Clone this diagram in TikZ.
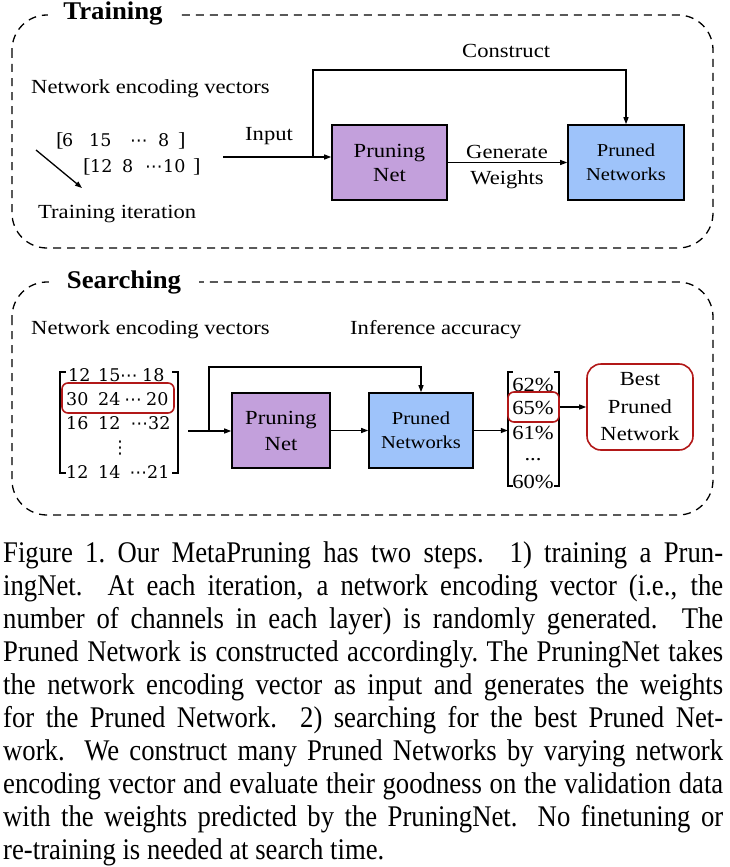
\documentclass[tikz,border=0pt]{standalone}
\usepackage{fontspec}
\setmainfont{Liberation Serif}
\newfontfamily\dfont{Liberation Serif}[FakeStretch=1.13]
\newfontfamily\tfont{Liberation Serif}[FakeStretch=1.05]
\newfontfamily\capf{Liberation Serif}[FakeStretch=0.89]
\newfontfamily\numf{DejaVu Serif}
\newfontfamily\symf{DejaVu Sans}
\usetikzlibrary{arrows.meta}
\definecolor{pnpurple}{RGB}{195,160,220}
\definecolor{prblue}{RGB}{158,195,250}
\definecolor{bestred}{RGB}{178,24,24}
\newcommand\dsz{\dfont\fontsize{20}{24}\selectfont}
\newcommand\ssz{\dfont\fontsize{18.2}{24}\selectfont}
\newcommand\capsz{\capf\fontsize{30}{33}\selectfont}
\newcommand\nsz{\numf\fontsize{17.5}{20}\selectfont}
\newcommand\cdt{{\symf ⋯}}
\newcommand\vdt{{\symf ⋮}}
\newcommand\lbk{{\dfont\fontsize{20}{20}\selectfont [}}
\newcommand\rbk{{\dfont\fontsize{20}{20}\selectfont ]}}
\newcommand\capl[1]{\makebox[720pt][s]{#1}}
\begin{document}
\begin{tikzpicture}[x=1pt,y=-1pt,
  dashbox/.style={draw, line width=1.3pt, dash pattern=on 8pt off 6pt, rounded corners=35pt},
  arr/.style={line width=1.3pt, -{Triangle[length=7pt,width=5pt]}},
  pnbox/.style={draw, line width=1.6pt, fill=pnpurple, align=center, inner sep=0pt, font=\dsz},
  prbox/.style={draw, line width=1.6pt, fill=prblue, align=center, inner sep=0pt, font=\ssz},
  redbox/.style={draw=bestred, line width=1.6pt, rounded corners=6pt, inner sep=0pt},
  lbl/.style={inner sep=0pt, anchor=base west, font=\dsz},
  numrow/.style={inner sep=0pt, anchor=base west, font=\nsz},
  acct/.style={inner sep=0pt, font=\dsz},
  ttl/.style={fill=white, inner ysep=2pt, anchor=base, font=\tfont\bfseries\fontsize{25.5}{25.5}\selectfont},
  brk/.style={line width=1.5pt},
  capline/.style={inner sep=0pt, anchor=base west, font=\capsz}]
\useasboundingbox (0,0) rectangle (730,867);

% ---------------- Training ----------------
\draw[dashbox] (12,15) rectangle (713,248);
\node[ttl, inner xsep=15pt] (ttrain) at (113,20) {Training};
\node[lbl] (tnev) at (31,93) {Network encoding vectors};
\node[numrow] (tva) at (56,146) {\makebox[6pt][l]{\lbk}\makebox[27pt][l]{6}\makebox[41pt][l]{15}\makebox[28pt][l]{\cdt}\makebox[20pt][l]{8}\rbk};
\node[numrow] (tvb) at (83,172) {\makebox[7pt][l]{\lbk}\makebox[32pt][l]{12}\makebox[23pt][l]{8}\makebox[18pt][l]{\cdt}\makebox[30pt][l]{10}\rbk};
\coordinate (dA) at (36,150);
\coordinate (dB) at (82,188);
\draw[arr] (dA) -- (dB);
\node[lbl] (titer) at (38,218) {Training iteration};
\node[lbl] (tinput) at (245,140) {Input};
\node[lbl] (tcons) at (462,57) {Construct};
\node[pnbox, minimum width=115pt, minimum height=75pt] (tPN) at (389.5,162.5) {Pruning\\Net};
\node[prbox, minimum width=116pt, minimum height=75pt] (tPR) at (626,162.5) {Pruned\\Networks};
\coordinate (inA) at (223,157);
\coordinate (tj) at (313,157);
\coordinate (tTop) at (313,70);
\draw[arr] (inA) -- (inA -| tPN.west);
\draw[arr] (tj) -- (tTop) -| (tPR.north);
\draw[arr] (tPN.east) -- (tPR.west);
\node[lbl, anchor=base] (tgen) at (507,158) {Generate};
\node[lbl, anchor=base] (twei) at (507,184) {Weights};

% ---------------- Searching ----------------
\draw[dashbox] (12,282) rectangle (713,515);
\node[ttl, inner xsep=18pt] (tsearch) at (124,288) {Searching};
\node[lbl] (snev) at (31,334) {Network encoding vectors};
\node[lbl] (sinf) at (350,334) {Inference accuracy};

\node[inner sep=0pt, minimum width=118pt, minimum height=101pt] (mat) at (119,422.5) {};
\draw[brk] ([xshift=6pt]mat.north west) -- (mat.north west) -- (mat.south west) -- ([xshift=6pt]mat.south west);
\draw[brk] ([xshift=-6pt]mat.north east) -- (mat.north east) -- (mat.south east) -- ([xshift=-6pt]mat.south east);
\node[numrow] (mr1) at (68,381) {\makebox[30pt][l]{12}\makebox[22pt][l]{15}\makebox[22pt][l]{\cdt}18};
\node[numrow] (mr2) at (66,405) {\makebox[32pt][l]{30}\makebox[22pt][l]{24}\makebox[26pt][c]{\cdt}20};
\node[numrow] (mr3) at (66,429) {\makebox[32pt][l]{16}\makebox[22pt][l]{12}\makebox[28pt][r]{\cdt}32};
\node[inner sep=0pt, font=\nsz] (mvd) at (120,448) {\vdt};
\node[numrow] (mr5) at (66,478) {\makebox[32pt][l]{12}\makebox[22pt][l]{14}\makebox[27pt][r]{\cdt}21};
\node[redbox, minimum width=112pt, minimum height=30pt] (r30) at (118,398) {};

\node[pnbox, minimum width=98pt, minimum height=75pt, font=\dfont\fontsize{20}{26}\selectfont] (sPN) at (281,430.5) {Pruning\\Net};
\node[prbox, minimum width=104pt, minimum height=75pt] (sPR) at (421,430.5) {Pruned\\Networks};
\coordinate (mA) at (188,431);
\coordinate (sj) at (209,431);
\coordinate (sTop) at (209,367);
\draw[arr] (mA) -- (mA -| sPN.west);
\draw[arr] (sj) -- (sTop) -| (sPR.north);
\draw[arr] (sPN.east) -- (sPR.west);

\node[inner sep=0pt, minimum width=51pt, minimum height=114pt] (acc) at (533.5,429) {};
\draw[brk] ([xshift=5pt]acc.north west) -- (acc.north west) -- (acc.south west) -- ([xshift=5pt]acc.south west);
\draw[brk] ([xshift=-5pt]acc.north east) -- (acc.north east) -- (acc.south east) -- ([xshift=-5pt]acc.south east);
\draw[arr] (sPR.east) -- (sPR.east -| acc.west);
\node[acct] (a62) at (533,385) {62\%};
\node[acct] (a65) at (533,408) {65\%};
\node[acct] (a61) at (533,433) {61\%};
\node[acct] (adots) at (533,460) {...};
\node[acct] (a60) at (533,482) {60\%};
\node[redbox, minimum width=51pt, minimum height=30pt] (r65) at (533.5,407) {};
\node[draw=bestred, line width=1.6pt, rounded corners=14pt, minimum width=106pt, minimum height=86pt, align=center, inner sep=0pt, font=\dfont\fontsize{20}{27.5}\selectfont] (best) at (640,407) {Best\\Pruned\\Network};
\draw[arr] (r65.east) -- (best.west);

% ---------------- Caption ----------------
\node[capline] (c1) at (3,562) {\capl{Figure 1.\ Our MetaPruning has two steps. 1) training a Prun-}};
\node[capline] (c2) at (3,595) {\capl{ingNet. At each iteration, a network encoding vector (i.e., the}};
\node[capline] (c3) at (3,628) {\capl{number of channels in each layer) is randomly generated. The}};
\node[capline] (c4) at (3,661) {\capl{Pruned Network is constructed accordingly.\ The PruningNet takes}};
\node[capline] (c5) at (3,694) {\capl{the network encoding vector as input and generates the weights}};
\node[capline] (c6) at (3,727) {\capl{for the Pruned Network. 2) searching for the best Pruned Net-}};
\node[capline] (c7) at (3,760) {\capl{work. We construct many Pruned Networks by varying network}};
\node[capline] (c8) at (3,793) {\capl{encoding vector and evaluate their goodness on the validation data}};
\node[capline] (c9) at (3,826) {\capl{with the weights predicted by the PruningNet. No finetuning or}};
\node[capline] (c10) at (3,859) {re-training is needed at search time.};
\end{tikzpicture}
\end{document}
